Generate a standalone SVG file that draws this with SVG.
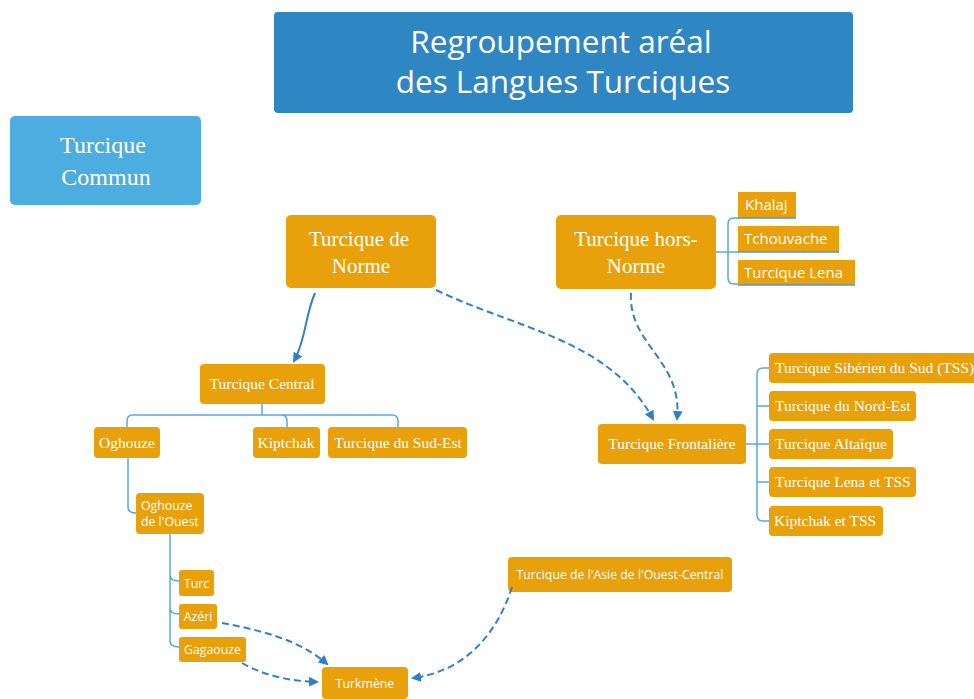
<svg xmlns="http://www.w3.org/2000/svg" width="974" height="699" viewBox="0 0 974 699">
<defs>
<style>
.box{fill:#E8A00B;}
.sq{fill:#E8A00B;}
.ul{stroke:#4A98D8;stroke-width:1.5;fill:none;}
.br{stroke:#5BA6E0;stroke-width:1.5;fill:none;}
.ser{font-family:"Liberation Serif","Times New Roman",serif;fill:#fff;}
.os{font-family:"Open Sans","Noto Sans",sans-serif;fill:#fff;}
.con{stroke:#2F80CC;stroke-width:2;fill:none;marker-end:url(#ah);}
.dash{stroke-dasharray:7,4;}
</style>
<marker id="ah" viewBox="0 0 10 10" refX="8" refY="5" markerWidth="5" markerHeight="5" orient="auto" markerUnits="strokeWidth">
<path d="M0,0 L10,5 L0,10 z" fill="#2F80CC"/>
</marker>
</defs>
<rect width="974" height="699" fill="#fff"/>

<g id="title">
<rect x="274" y="12" width="579" height="101" rx="4" fill="#2E86C2"/>
<text class="os" x="561" y="53" font-size="31.5" text-anchor="middle">Regroupement aréal</text>
<text class="os" x="563" y="93" font-size="31.5" text-anchor="middle">des Langues Turciques</text>
</g>

<g id="commun">
<rect x="10" y="116" width="191" height="89" rx="5" fill="#4BADE0"/>
<text class="ser" x="103" y="153" font-size="24" text-anchor="middle">Turcique</text>
<text class="ser" x="106" y="185" font-size="24" text-anchor="middle">Commun</text>
</g>

<g id="brackets">
<path class="br" d="M716,252 H728 M739,218 H734 Q728,218 728,224 V278 Q728,284 734,284 H739 M728,252 H739"/>
<path class="br" d="M262,404 V415 M133,415 H392 Q398,415 398,421 V427 M133,415 Q127,415 127,421 V427 M281,415 Q287,415 287,421 V427"/>
<path class="br" d="M128,458 V507 Q128,513 136,513"/>
<path class="br" d="M170,534 V575 Q170,581 179,581 M170,575 V608 Q170,614 179,614 M170,608 V641 Q170,647 179,647"/>
<path class="br" d="M746,444 H769 M769,368 H763 Q757,368 757,374 V515 Q757,521 763,521 H769 M757,406 H769 M757,482 H769"/>
</g>

<g id="norme">
<rect class="box" x="286" y="215" width="150" height="73" rx="5"/>
<text class="ser" x="359" y="246" font-size="21" text-anchor="middle">Turcique de</text>
<text class="ser" x="361" y="273" font-size="21" text-anchor="middle">Norme</text>
</g>

<g id="horsnorme">
<rect class="box" x="556" y="215" width="160" height="74" rx="5"/>
<text class="ser" x="636" y="246" font-size="21" text-anchor="middle">Turcique hors-</text>
<text class="ser" x="636" y="273" font-size="21" text-anchor="middle">Norme</text>
</g>

<g id="khalaj">
<rect class="sq" x="738" y="192" width="58" height="26"/>
<path class="ul" d="M738,218 H796"/>
<text class="os" x="745" y="210" font-size="15">Khalaj</text>
</g>
<g id="tchouvache">
<rect class="sq" x="738" y="226" width="101" height="26"/>
<path class="ul" d="M738,252 H839"/>
<text class="os" x="744" y="244" font-size="15">Tchouvache</text>
</g>
<g id="lena">
<rect class="sq" x="738" y="260" width="117" height="25"/>
<path class="ul" d="M738,285 H855"/>
<text class="os" x="744" y="278" font-size="15">Turcique Lena</text>
</g>

<g id="central">
<rect class="box" x="200" y="364" width="125" height="40" rx="4"/>
<text class="ser" x="262" y="389" font-size="15.5" text-anchor="middle">Turcique Central</text>
</g>
<g id="oghouze">
<rect class="box" x="94" y="427" width="66" height="31" rx="4"/>
<text class="ser" x="127" y="448" font-size="15.5" text-anchor="middle">Oghouze</text>
</g>
<g id="kiptchak">
<rect class="box" x="253" y="427" width="67" height="31" rx="4"/>
<text class="ser" x="286" y="448" font-size="15.5" text-anchor="middle">Kiptchak</text>
</g>
<g id="sudest">
<rect class="box" x="328" y="427" width="139" height="31" rx="4"/>
<text class="ser" x="398" y="448" font-size="15.5" text-anchor="middle">Turcique du Sud-Est</text>
</g>

<g id="ouest">
<rect class="box" x="136" y="493" width="68" height="41" rx="4"/>
<text class="os" x="141" y="510" font-size="12.3">Oghouze</text>
<text class="os" x="141" y="526" font-size="12.3">de l'Ouest</text>
</g>
<g id="turc">
<rect class="box" x="179" y="570" width="35" height="26" rx="3"/>
<text class="os" x="196.5" y="588" font-size="12.3" text-anchor="middle">Turc</text>
</g>
<g id="azeri">
<rect class="box" x="179" y="604" width="38" height="25" rx="3"/>
<text class="os" x="198" y="621" font-size="12.3" text-anchor="middle">Azéri</text>
</g>
<g id="gagaouze">
<rect class="box" x="179" y="637" width="67" height="25" rx="3"/>
<text class="os" x="212.5" y="654" font-size="12.3" text-anchor="middle">Gagaouze</text>
</g>
<g id="turkmene">
<rect class="box" x="322" y="667" width="86" height="32" rx="4"/>
<text class="os" x="365" y="688" font-size="12.3" text-anchor="middle">Turkmène</text>
</g>
<g id="asie">
<rect class="box" x="508" y="557" width="224" height="35" rx="4"/>
<text class="os" x="620" y="579" font-size="12.3" text-anchor="middle">Turcique de l'Asie de l'Ouest-Central</text>
</g>

<g id="frontaliere">
<rect class="box" x="598" y="424" width="148" height="40" rx="4"/>
<text class="ser" x="672" y="449" font-size="15.5" text-anchor="middle">Turcique Frontalière</text>
</g>
<g id="tss">
<rect class="box" x="769" y="353" width="215" height="30" rx="4"/>
<text class="ser" x="775" y="373" font-size="15.5">Turcique Sibérien du Sud (TSS)</text>
</g>
<g id="nordest">
<rect class="box" x="769" y="391" width="147" height="30" rx="4"/>
<text class="ser" x="775" y="411" font-size="15.5">Turcique du Nord-Est</text>
</g>
<g id="altaique">
<rect class="box" x="769" y="429" width="124" height="30" rx="4"/>
<text class="ser" x="775" y="449" font-size="15.5">Turcique Altaïque</text>
</g>
<g id="lenatss">
<rect class="box" x="769" y="467" width="147" height="30" rx="4"/>
<text class="ser" x="775" y="487" font-size="15.5">Turcique Lena et TSS</text>
</g>
<g id="kiptchaktss">
<rect class="box" x="769" y="506" width="114" height="30" rx="4"/>
<text class="ser" x="774" y="526" font-size="15.5">Kiptchak et TSS</text>
</g>

<g id="connectors">
<path class="con" d="M315,293 C305,315 306,340 294,361"/>
<path class="con dash" d="M436,290 C520,330 610,340 653,419"/>
<path class="con dash" d="M631,293 C628,345 683,360 677,419"/>
<path class="con dash" d="M222,623 C260,630 300,640 327,664"/>
<path class="con dash" d="M242,663 C265,676 290,681 317,682"/>
<path class="con dash" d="M512,587 C495,640 460,672 413,678"/>
</g>
</svg>
